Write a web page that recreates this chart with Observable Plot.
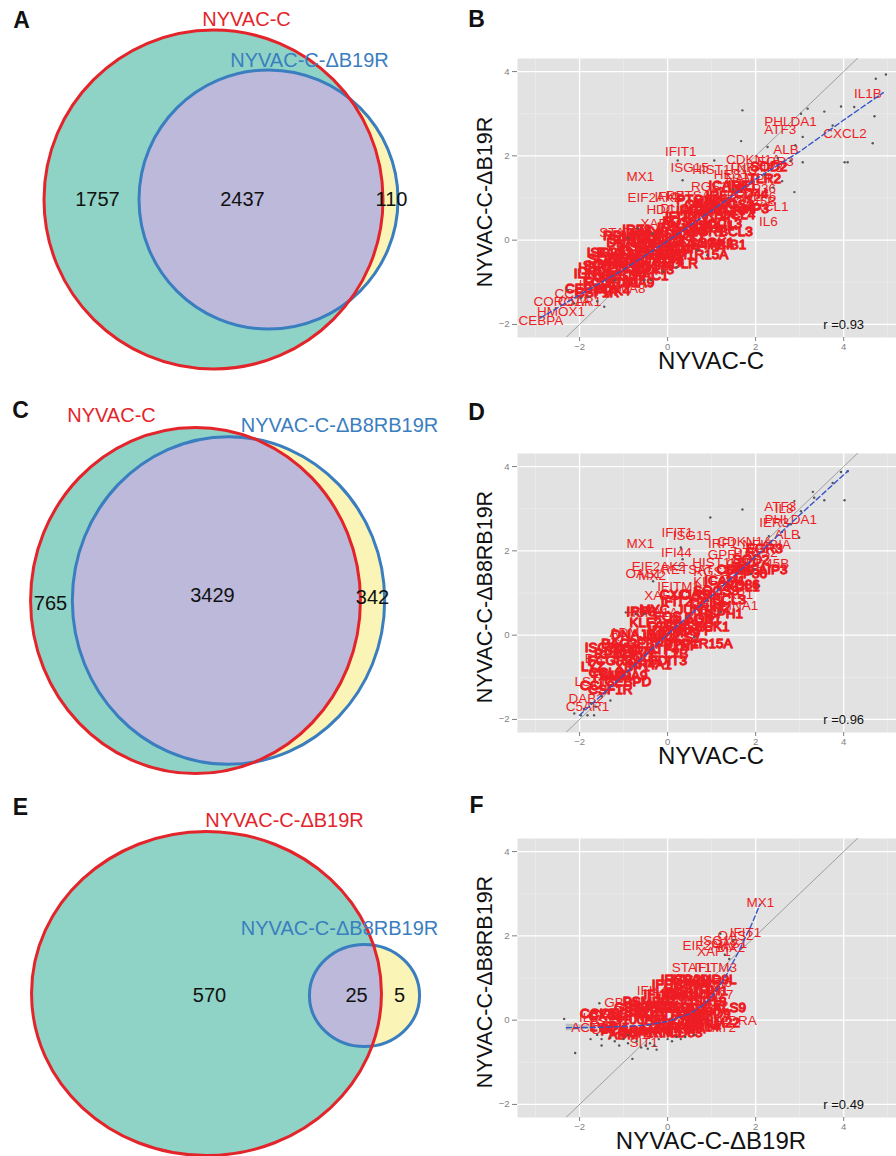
<!DOCTYPE html>
<html><head><meta charset="utf-8">
<script src="https://cdn.jsdelivr.net/npm/d3@7"></script>
<script src="https://cdn.jsdelivr.net/npm/@observablehq/plot@0.6"></script>
<style>
html,body{margin:0;padding:0;background:#fff;}
#fig{position:relative;width:896px;height:1156px;overflow:hidden;font-family:"Liberation Sans",Arial,sans-serif;}
#fig svg{position:absolute;}
</style></head><body><div id="fig"></div>
<script>
// ---------------- Venn data ----------------
const vennPanels = ["A", "C", "E"];
const vennLeftSet = ["NYVAC-C", "NYVAC-C", "NYVAC-C-ΔB19R"];
const vennRightSet = ["NYVAC-C-ΔB19R", "NYVAC-C-ΔB8RB19R", "NYVAC-C-ΔB8RB19R"];
const vennLeftOnly = [1757, 765, 570];
const vennBoth = [2437, 3429, 25];
const vennRightOnly = [110, 342, 5];

// ---------------- Scatter B: NYVAC-C vs NYVAC-C-ΔB19R ----------------
const geneB = ["IL1B","PHLDA1","ATF3","CXCL2","ALB","IFIT1","CDKN1A","EGR3","ISG15","HIST1H1C","TNFAIP3","MX1","NAMPT","HES1","RGS1","ZFP36","EIF2AK2","IFI44","RETSAT","IER3","KLF6","GADD45B","CXCL1","DUSP1","HDC","IL6","XAF1","STAT1","CEBPA","HMOX1","CORO1A","C5AR1","CCR2","LYZ","S100A8",
"IRF7","OASL","SOCS3","NFKBIA","CCL4","CCL3","JUN","FOS","EGR1","BCL3","SGK1","TRIB1","MAFF","CD83","CD69","TNF","LTB","PPP1R15A","HSPA1A","DNAJB1","BAG3","SERPINE1","ATF4","DDIT3","XBP1","HERPUD1","CHAC1","SESN2","TXNIP","PDK4","CEBPD","CEBPB","LDLR","HMGCS1","INSIG1","SQLE","SCD","FCGR3A","S100A9","CSF1R","IRF8","SPI1","ISG20","PTGS2","CCL2","CXCL10","IFIT3","IFIT2","ID2","MYC","KLF2","KLF4","NR4A1","NR4A2","HSPH1","GPR183","RGS2","ADM","HSPB1","IRF1","SOD2","CD44","ICAM1","NFKB1","RPL13","CTSB","PLAUR","LAMP3","TLR2","IL1RN","MMP9","CD86"];
const geneBx = [4.55,2.79,2.56,4.03,2.69,0.30,1.95,2.45,0.50,1.30,2.00,-0.62,1.85,1.45,0.95,2.00,-0.30,0.05,0.55,1.60,2.10,1.75,2.25,0.35,-0.15,2.29,-0.23,-1.10,-2.88,-2.42,-2.40,-2.00,-2.15,-1.75,-1.05,
1.20,0.80,1.45,1.00,1.60,1.30,0.60,0.20,0.90,1.55,1.10,1.35,0.50,0.10,-0.30,0.40,-0.10,0.60,-0.50,-0.80,-1.20,-0.60,0.00,-0.30,-0.90,-1.30,-0.50,-1.00,-1.50,-1.25,-1.80,-0.20,0.30,0.20,-0.70,-1.40,-1.60,-1.30,-0.85,-1.60,-0.70,-1.00,-1.40,0.70,0.90,1.20,0.55,0.30,0.00,-0.30,-0.55,-0.75,-0.40,0.80,1.00,-1.10,-0.40,0.10,0.70,1.70,2.30,1.90,1.40,1.10,-1.00,-0.10,0.50,1.80,2.20,-1.70,-0.60,0.00];
const geneBy = [3.47,2.80,2.62,2.53,2.15,2.09,1.90,1.86,1.72,1.67,1.72,1.50,1.45,1.55,1.28,1.22,1.00,1.02,1.05,1.05,1.02,0.92,0.79,0.74,0.72,0.43,0.39,0.17,-1.91,-1.70,-1.47,-1.45,-1.28,-1.05,-1.15,
1.05,0.85,0.85,0.60,0.60,0.40,0.55,0.45,0.20,0.20,-0.05,-0.10,0.15,0.15,0.05,-0.20,-0.25,-0.35,-0.15,-0.05,-0.30,-0.45,-0.50,-0.70,-0.50,-0.65,-0.85,-0.85,-0.90,-1.20,-1.15,-0.35,-0.55,-0.05,-0.65,-0.45,-0.60,-1.00,-1.00,-1.25,0.25,0.00,-0.30,0.95,0.75,0.70,0.70,0.55,0.30,0.20,0.00,-0.25,-0.30,-0.10,0.35,-0.55,-0.60,-0.35,0.30,1.30,1.75,1.10,1.30,0.90,0.10,0.05,0.35,0.75,1.45,-0.80,0.10,-0.15];
const ptBx = [4.73,4.96,4.24,3.94,3.56,3.18,4.70,4.66,4.02,4.09,1.70,1.67,3.07,3.03,2.27,3.75,2.80,3.07,0.34,0.23,2.88,1.06,-0.34,-0.68,0.68,-0.53,-0.38,-1.44,-2.27,-1.97,-2.12,2.5,2.2,2.9,1.5,-1.2,0.9,-0.9,-1.8,-1.6,2.6,2.4,0.2,-0.1];
const ptBy = [3.83,3.93,3.16,3.17,3.05,3.12,2.94,2.30,1.85,1.85,3.08,2.35,2.45,3.00,2.21,2.72,1.89,1.85,1.42,1.89,1.14,1.89,0.16,0.28,-0.24,-0.95,-0.95,-1.58,-1.18,-1.38,-1.50,1.95,1.55,2.25,1.20,-0.95,-0.35,0.05,-1.35,-1.45,1.40,1.25,-0.65,-0.75];
const loessBx = [-2.9,-2,-1,0,1,2,3,4,4.9];
const loessBy = [-1.85,-1.3,-0.7,-0.02,0.7,1.45,2.1,2.85,3.5];

// ---------------- Scatter D: NYVAC-C vs NYVAC-C-ΔB8RB19R ----------------
const geneD = ["ATF3","IL8","PHLDA1","IER3","ALB","IFIT1","ISG15","MX1","IRF1","CDKN1A","NFKBIA","GPR183","PTGS2","IFI44","EIF2AK2","OAS1","MX2","RETSAT","HIST1H4C","GADD45B","RGS1","KLF6","IFITM1","XAF1","HSPA1A","ADM","HSPB1","BST2","LST1","DAB2","C5AR1","SERPINA1","NFKB1","IRF7",
"CCL2","CCL3","LYZ","CSF1R","FCGR3A","S100A9","SPI1","XBP1","DNAJB1","SQLE","KLF2","CEBPB","MYC","ID2","ATF4","FOS","HMGCS1","IFIT2","CD83","TNF","JUN","MAFF","OASL","EGR1","CCL4","SGK1","SOCS3","HSPH1","ICAM1","BCL3","CD44","CXCL1","ZFP36","SOD2","TNFAIP3","EGR3","BAG3","IRF8","CXCL10","DDIT3","PPP1R15A","ISG20","TXNIP","CEBPD","LTB","NR4A1","CTSB","PLAUR","TLR2","RPL13","MMP9","CD86","IL1RN"];
const geneDx = [2.56,2.65,2.80,2.42,2.72,0.22,0.55,-0.62,1.25,1.75,2.25,1.50,2.00,0.20,-0.20,-0.55,-0.35,0.45,1.30,2.05,1.00,0.95,0.25,-0.15,-0.35,-0.98,-1.00,-1.50,-1.75,-1.85,-1.82,1.30,1.45,1.60,
-1.60,-1.40,-1.70,-1.30,-1.20,-1.00,-0.90,-0.80,-0.70,-0.60,-0.50,-0.40,-0.30,-0.20,-0.10,0.00,0.10,0.20,0.30,0.40,0.50,0.60,0.70,0.80,0.90,1.00,1.10,1.20,1.30,1.40,1.50,1.60,1.80,1.90,2.10,2.20,-1.10,-0.60,0.40,0.00,0.70,-1.45,-1.30,-0.90,0.20,-0.40,-0.05,0.55,1.05,-1.20,0.30,1.70,-0.75];
const geneDy = [3.06,3.00,2.75,2.66,2.39,2.43,2.37,2.17,2.17,2.22,2.15,1.92,1.95,1.96,1.62,1.47,1.40,1.55,1.72,1.70,1.50,1.27,1.15,0.94,0.53,0.07,-0.20,-0.56,-1.10,-1.50,-1.70,0.70,0.95,1.55,
-1.20,-0.90,-0.75,-1.30,-0.60,-0.95,-0.35,-0.75,0.00,-0.50,0.30,-0.20,0.60,0.10,-0.35,0.45,-0.05,0.80,0.25,-0.25,0.60,0.10,0.95,0.40,0.75,0.20,1.05,0.50,1.30,0.85,1.55,1.15,1.45,1.80,1.55,2.05,-0.20,0.55,0.95,-0.60,-0.20,-0.30,-0.95,-1.10,-0.45,-0.70,0.20,0.35,0.65,-0.45,0.05,1.20,-0.40];
const ptDx = [4.09,3.94,4.02,3.75,3.30,3.56,3.33,2.88,3.03,1.70,0.97,2.80,2.99,2.08,-0.72,-0.53,-0.95,-0.33,0.30,0.34,0.27,1.89,1.97,-1.97,-1.82,-1.67,-2.12,-1.63,-1.9,-1.75,1.2,0.6,2.6,2.3,-1.5,-1.3];
const ptDy = [3.89,3.87,3.20,3.61,3.40,3.20,3.26,3.18,2.94,2.98,2.79,2.63,2.31,1.17,0.50,0.50,0.54,1.28,2.08,1.80,1.65,1.45,1.57,-1.90,-1.90,-1.90,-1.86,-1.70,-1.75,-1.62,0.55,-0.05,2.45,2.35,-1.45,-1.55];
const loessDx = [-2,-1,0,1,2,3,4.1];
const loessDy = [-1.9,-0.95,0.02,0.93,1.87,2.85,3.9];

// ---------------- Scatter F: NYVAC-C-ΔB19R vs NYVAC-C-ΔB8RB19R ----------------
const geneF = ["MX1","IFIT1","OAS2","ISG15","OAS1","EIF2AK2","MX2","XAF1","IFITM3","STAT1","IFI6","IFI44","GBP1","IL8","CCL2","SIT1","STAT2","HLA-DRA","IRF2","IFI27","RSAD2","ACTB","CD14",
"LYZ","CCL3","CXCL2","SPI1","CEBPB","FCGR3A","GBP4","S100A8","CSF1R","PSMB9","TAP1","ATF4","IFI16","SOCS1","JUN","IFIT3","IRF7","DDX58","IFIT2","NFKBIA","OASL","HERC5","ISG20","TNF","PARP9","DDX60","CMPK2","EGR1","USP18","SAMD9","IFIH1","TRIM22","LGALS9","ADM","PLSCR1","CD83","SP110","BST2","EPSTI1","HELZ2","XAF1","SAMD9L","PARP14","TRIM5"];
const geneFx = [2.11,1.77,1.54,1.16,1.40,0.95,1.45,1.05,1.09,0.55,1.20,-0.35,-1.03,-1.80,-1.40,-0.54,1.10,1.35,1.05,1.15,0.75,-1.78,-1.35,
-1.50,-1.60,-1.30,-1.20,-1.00,-0.90,-0.80,-0.70,-0.60,-0.50,-0.40,-0.30,-0.20,-0.10,0.00,0.00,0.10,0.20,0.20,0.30,0.35,0.40,0.50,0.55,0.60,0.70,0.70,0.80,0.85,0.90,1.00,1.10,1.20,-1.00,-0.30,0.40,0.15,-0.60,0.45,-0.05,0.25,0.95,0.60,-0.15];
const geneFy = [2.79,2.08,2.00,1.88,1.82,1.76,1.72,1.62,1.25,1.25,0.88,0.70,0.42,0.06,0.05,-0.53,-0.17,-0.02,0.34,0.60,0.55,-0.17,-0.22,
-0.15,0.15,0.10,-0.20,0.15,-0.25,0.30,0.00,-0.30,0.45,0.10,-0.20,0.60,0.30,-0.10,0.85,0.50,0.10,0.95,-0.20,0.65,0.30,0.95,0.00,0.55,0.20,0.85,-0.10,0.45,0.15,0.70,-0.05,0.30,-0.35,0.35,-0.30,0.30,0.20,0.75,0.00,0.60,0.95,-0.15,-0.30];
const ptFx = [-1.5,-1.3,-1.2,-1.0,-0.9,-0.7,-0.5,-0.4,-0.3,-0.2,0.0,0.2,0.4,0.6,-2.1,-0.8,-2.35,-1.6,-1.55,1.2,1.3,1.5,1.4,-1.5,-0.9,-1.75,-0.6,0.1,-0.25,-0.45,0.3,-1.1];
const ptFy = [-0.45,-0.42,-0.5,-0.45,-0.55,-0.5,-0.6,-0.55,-0.6,-0.45,-0.45,-0.4,-0.4,-0.35,-0.78,-0.92,0.03,-0.35,0.4,2.05,1.55,1.9,1.45,-0.6,-0.35,-0.45,-0.65,-0.5,-0.7,-0.68,-0.45,-0.6];
const loessFx = [-2.3,-1.5,-1,-0.5,0,0.5,0.8,1,1.3,1.6,1.9,2.1];
const loessFy = [-0.18,-0.17,-0.15,-0.12,-0.03,0.15,0.35,0.55,1.0,1.6,2.25,2.75];
const ribbonFx = [-2.3,-2.0,-1.7,-1.4];
const ribbonFlo = [-0.26,-0.23,-0.21,-0.2];
const ribbonFhi = [-0.1,-0.11,-0.13,-0.14];

const scatterLetters = ["B", "D", "F"];
const scatterX = ["NYVAC-C", "NYVAC-C", "NYVAC-C-ΔB19R"];
const scatterY = ["NYVAC-C-ΔB19R", "NYVAC-C-ΔB8RB19R", "NYVAC-C-ΔB8RB19R"];
const scatterR = [0.93, 0.96, 0.49];
const majorTicks = [-2, 0, 2, 4];
const minorTicksX = [-3, -1, 1, 3, 5];
const minorTicksY = [-1, 1, 3];

// ---------------- styles / layout ----------------
const FONT = '"Liberation Sans", Arial, sans-serif';
const TEAL = "#8ed3c5", PURPLE = "#bcb9da", YELLOW = "#faf5b6";
const RED = "#e3252b", BLUE = "#3a7ec0", LABEL_RED = "#ee1d23";
const fig = document.getElementById("fig");

const vennGeom = [
  {red:{cx:213, cy:199, r:169.5}, blue:{cx:268, cy:199, r:129.5}, sx:1, sy:1,
   letter:[21,20], titleL:[246,19], titleR:[309,60], counts:[[97,199],[242,199],[391,199]]},
  {red:{cx:195, cy:600, r:169}, blue:{cx:228, cy:600, r:160}, sx:0.976, sy:1.024,
   letter:[20,410], titleL:[111,415], titleR:[339,425], counts:[[50,603],[212,595],[372,597]]},
  {red:{cx:206, cy:993, r:168.4}, blue:{cx:364, cy:995, r:53}, sx:1.039, sy:0.962,
   letter:[20,807], titleL:[284,820], titleR:[339,928], counts:[[209,995],[356,995],[399,995]]}
];

function ellipse(sx, sy) {
  return {draw(ctx, size) {
    const r = Math.sqrt(size / Math.PI), a = r * sx, b = r * sy, k = 0.5522847;
    ctx.moveTo(a, 0);
    ctx.bezierCurveTo(a, b * k, a * k, b, 0, b);
    ctx.bezierCurveTo(-a * k, b, -a, b * k, -a, 0);
    ctx.bezierCurveTo(-a, -b * k, -a * k, -b, 0, -b);
    ctx.bezierCurveTo(a * k, -b, a, -b * k, a, 0);
    ctx.closePath();
  }};
}

// ---------------- Venn diagrams ----------------
(function () {
  const marks = [];
  vennPanels.forEach((p, i) => {
    const g = vennGeom[i];
    const o = {x: "cx", y: "cy", r: "r", symbol: ellipse(g.sx, g.sy)};
    const red = [{...g.red, set: vennLeftSet[i]}];
    const blue = [{...g.blue, set: vennRightSet[i]}];
    marks.push(
      Plot.dot(red, {...o, fill: TEAL, stroke: "none"}),
      Plot.dot(blue, {...o, fill: YELLOW, stroke: "none"}),
      Plot.dot(blue, {...o, fill: PURPLE, stroke: "none"}),
      Plot.dot(blue, {...o, fill: "none", stroke: BLUE, strokeWidth: 3}),
      Plot.dot(red, {...o, fill: "none", stroke: RED, strokeWidth: 3}),
      Plot.text([vennLeftSet[i]], {x: g.titleL[0], y: g.titleL[1], text: d => d, fill: RED, fontSize: 20}),
      Plot.text([vennRightSet[i]], {x: g.titleR[0], y: g.titleR[1], text: d => d, fill: BLUE, fontSize: 20}),
      Plot.text([vennLeftOnly[i], vennBoth[i], vennRightOnly[i]], {
        x: (d, j) => g.counts[j][0], y: (d, j) => g.counts[j][1], text: d => String(d), fill: "#111", fontSize: 20}),
      Plot.text([p], {x: g.letter[0], y: g.letter[1], text: d => d, fill: "#111", fontSize: 23, fontWeight: "bold"})
    );
  });
  const svg = Plot.plot({
    width: 440, height: 1156, margin: 0,
    x: {domain: [0, 440], range: [0, 440], axis: null},
    y: {domain: [0, 1156], range: [0, 1156], axis: null},
    r: {type: "identity"},
    style: {fontFamily: FONT, background: "transparent", overflow: "visible"},
    marks
  });
  const ns = "http://www.w3.org/2000/svg";
  const dots = svg.querySelectorAll('g[aria-label="dot"]');
  const defs = document.createElementNS(ns, "defs");
  svg.insertBefore(defs, svg.firstChild);
  vennPanels.forEach((p, i) => {
    const src = dots[5 * i] && dots[5 * i].querySelector("path, circle");
    if (!src) return;
    const cp = document.createElementNS(ns, "clipPath");
    cp.setAttribute("id", "vclip" + i);
    cp.appendChild(src.cloneNode(true));
    defs.appendChild(cp);
    dots[5 * i + 2].setAttribute("clip-path", `url(#vclip${i})`);
  });
  svg.style.left = "0px"; svg.style.top = "0px";
  fig.appendChild(svg);
})();

// ---------------- Scatter plots ----------------
const scatterData = [
  {genes: geneB, gx: geneBx, gy: geneBy, px: ptBx, py: ptBy, lx: loessBx, ly: loessBy},
  {genes: geneD, gx: geneDx, gy: geneDy, px: ptDx, py: ptDy, lx: loessDx, ly: loessDy},
  {genes: geneF, gx: geneFx, gy: geneFy, px: ptFx, py: ptFy, lx: loessFx, ly: loessFy,
   rx: ribbonFx, rlo: ribbonFlo, rhi: ribbonFhi}
];
// index where the dense "cloud" of labels begins in each gene list (labels before it are outliers)
const cloudStart = [35, 34, 23];
const scatterTop = [0, 395, 780];
const letterDy = [-39, -41, -33];

scatterData.forEach((s, i) => {
  const labels = s.genes.map((g, j) => ({g, x: s.gx[j], y: s.gy[j], cloud: j >= cloudStart[i]}));
  const pts = s.px.map((x, j) => ({x, y: s.py[j]}));
  const loess = s.lx.map((x, j) => ({x, y: s.ly[j]}));
  const ribbon = s.rx ? s.rx.map((x, j) => ({x, lo: s.rlo[j], hi: s.rhi[j]})) : [];
  const svg = Plot.plot({
    width: 456, height: 387, marginLeft: 77, marginRight: 0, marginTop: 58, marginBottom: 50,
    x: {domain: [-3.41, 5.2]},
    y: {domain: [-2.31, 4.31]},
    style: {fontFamily: FONT, fontSize: "9.5px", color: "#7f7f7f", background: "transparent", overflow: "visible"},
    marks: [
      Plot.frame({fill: "#e2e2e2", stroke: "none"}),
      Plot.gridX(minorTicksX, {stroke: "#f0f0f0", strokeOpacity: 1, strokeWidth: 0.6}),
      Plot.gridY(minorTicksY, {stroke: "#f0f0f0", strokeOpacity: 1, strokeWidth: 0.6}),
      Plot.gridX(majorTicks, {stroke: "white", strokeOpacity: 1, strokeWidth: 1.3}),
      Plot.gridY(majorTicks, {stroke: "white", strokeOpacity: 1, strokeWidth: 1.3}),
      Plot.axisX(majorTicks, {tickSize: 4, tickPadding: 2, label: null}),
      Plot.axisY(majorTicks, {tickSize: 5, tickPadding: 3, label: null}),
      Plot.line([-4, 6], {x: d => d, y: d => d, stroke: "#8c8c8c", strokeWidth: 0.8, clip: true}),
      Plot.areaY(ribbon, {x: "x", y1: "lo", y2: "hi", fill: "#9a9a9a", fillOpacity: 0.5}),
      Plot.text(labels.filter(d => d.cloud), {x: "x", y: "y", text: "g", fill: LABEL_RED, stroke: LABEL_RED, strokeWidth: 1.3, fontSize: 13.5, clip: true}),
      Plot.text(labels.filter(d => !d.cloud), {x: "x", y: "y", text: "g", fill: LABEL_RED, fontSize: 13.5, clip: true}),
      Plot.dot(pts, {x: "x", y: "y", r: 1.2, fill: "#555", stroke: "none"}),
      Plot.line(loess, {x: "x", y: "y", stroke: "#3555c8", strokeWidth: 1.4, strokeDasharray: "5,3"}),
      Plot.text([scatterR[i]], {x: 4, y: -2, text: d => "r =" + d.toFixed(2), fill: "#111", fontSize: 13}),
      Plot.text([scatterX[i]], {frameAnchor: "bottom", lineAnchor: "middle", dy: 24, dx: 4, text: d => d, fill: "#111", fontSize: 24}),
      Plot.text([scatterY[i]], {frameAnchor: "left", lineAnchor: "middle", textAnchor: "middle", rotate: -90, dx: -32, dy: 4, text: d => d, fill: "#111", fontSize: 21.5}),
      Plot.text([scatterLetters[i]], {frameAnchor: "top-left", textAnchor: "middle", lineAnchor: "middle", dx: -41, dy: letterDy[i], text: d => d, fill: "#111", fontSize: 23, fontWeight: "bold"})
    ]
  });
  svg.style.left = "440px";
  svg.style.top = scatterTop[i] + "px";
  fig.appendChild(svg);
});
</script>
</body></html>
